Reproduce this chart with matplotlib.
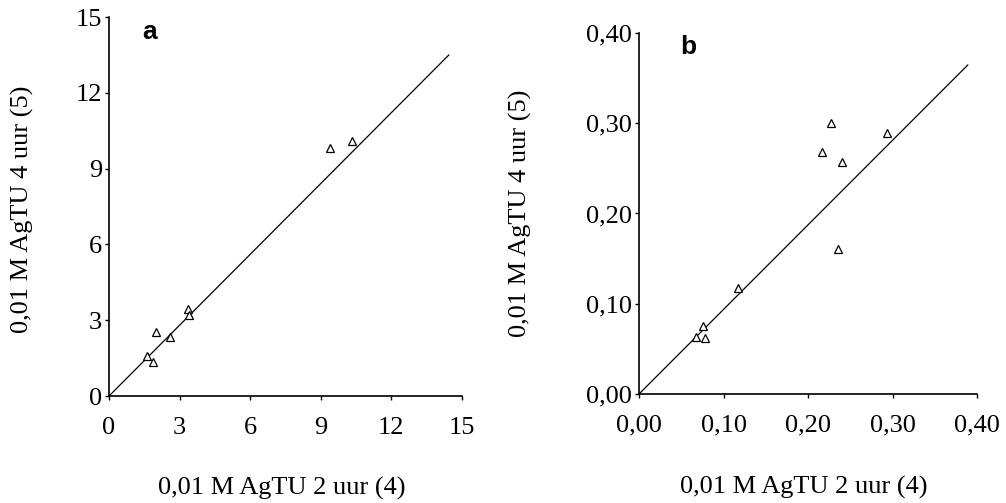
import matplotlib
matplotlib.use("Agg")
import matplotlib.pyplot as plt
from matplotlib.ticker import FixedLocator, FuncFormatter

# panel a data
a_x = [1.6, 1.85, 2.0, 2.6, 3.35, 3.4, 9.4, 10.35]
a_y = [1.6, 1.35, 2.55, 2.35, 3.45, 3.2, 9.8, 10.1]
a_line_x = [0, 14.45]
a_line_y = [0, 13.5]
a_ticks = [0, 3, 6, 9, 12, 15]

# panel b data
b_x = [0.068, 0.076, 0.078, 0.1175, 0.216, 0.227, 0.236, 0.240, 0.293]
b_y = [0.063, 0.075, 0.062, 0.117, 0.268, 0.300, 0.161, 0.257, 0.289]
b_line_x = [0, 0.389]
b_line_y = [0, 0.3645]
b_ticks = [0.0, 0.1, 0.2, 0.3, 0.4]

xlabel = "0,01 M AgTU 2 uur (4)"
ylabel = "0,01 M AgTU 4 uur (5)"

plt.rcParams['font.family'] = ['Liberation Serif', 'DejaVu Serif']

fig = plt.figure(figsize=(10.06, 5.03), dpi=100)
ax1 = fig.add_axes([0.1084, 0.2127, 0.3506, 0.7533])
ax2 = fig.add_axes([0.6352, 0.2167, 0.3360, 0.7177])

comma2 = FuncFormatter(lambda v, p: f"{v:.2f}".replace(".", ","))
intfmt = FuncFormatter(lambda v, p: f"{v:.0f}")

# (axes, x, y, line x, line y, ticks, formatter, tag, tag pos, xlabel pos, ylabel pos)
panels = [
    (ax1, a_x, a_y, a_line_x, a_line_y, a_ticks, intfmt, "a",
     (0.116, 0.96), (0.49, -0.243), (-0.246, 0.493)),
    (ax2, b_x, b_y, b_line_x, b_line_y, b_ticks, comma2, "b",
     (0.145, 0.961), (0.488, -0.26), (-0.352, 0.50)),
]

for ax, xs, ys, lx, ly, ticks, fmt, tag, tagpos, xlpos, ylpos in panels:
    ax.plot(lx, ly, color='black', linewidth=0.9)
    ax.plot(xs, ys, '^', markersize=6, markerfacecolor='white',
            markeredgecolor='black', markeredgewidth=0.9, linestyle='none')
    ax.set_xlim(ticks[0], ticks[-1])
    ax.set_ylim(ticks[0], ticks[-1])
    ax.xaxis.set_major_locator(FixedLocator(ticks))
    ax.yaxis.set_major_locator(FixedLocator(ticks))
    ax.xaxis.set_major_formatter(fmt)
    ax.yaxis.set_major_formatter(fmt)
    ax.spines['top'].set_visible(False)
    ax.spines['right'].set_visible(False)
    ax.spines['left'].set_linewidth(1.2)
    ax.spines['bottom'].set_linewidth(1.2)
    ax.tick_params(direction='out', length=3, width=1, labelsize=19)
    ax.tick_params(axis='x', pad=12)
    ax.tick_params(axis='y', pad=2)
    ax.set_xlabel(xlabel, fontsize=19, va='center', ha='center')
    ax.set_ylabel(ylabel, fontsize=19, va='center', ha='center')
    ax.xaxis.set_label_coords(*xlpos)
    ax.yaxis.set_label_coords(*ylpos)
    ax.text(tagpos[0], tagpos[1], tag, transform=ax.transAxes, fontsize=19,
            fontweight='bold', family='Liberation Sans', va='center', ha='center')

fig.savefig("out.png", dpi=100)
